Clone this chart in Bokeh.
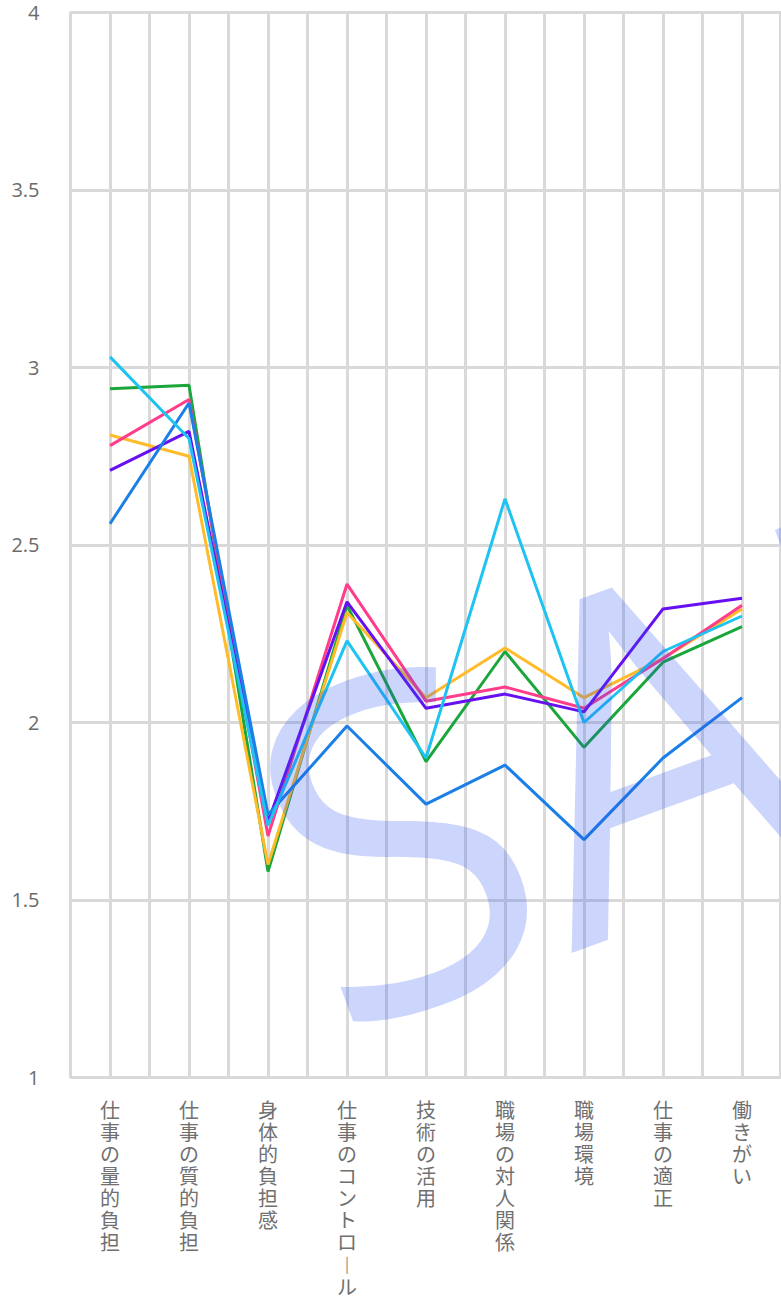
from bokeh.plotting import figure
from bokeh.layouts import column
from bokeh.models import Range1d, FixedTicker, Label, ColumnDataSource
from bokeh.core.properties import value
from bokeh.embed import file_html
from bokeh.resources import INLINE

categories = ["仕事の量的負担", "仕事の質的負担", "身体的負担感", "仕事のコントロール",
              "技術の活用", "職場の対人関係", "職場環境", "仕事の適正", "働きがい"]
blue = [2.56, 2.90, 1.74, 1.99, 1.77, 1.88, 1.67, 1.90, 2.07]
purple = [2.71, 2.82, 1.72, 2.34, 2.04, 2.08, 2.03, 2.32, 2.35]
pink = [2.78, 2.91, 1.68, 2.39, 2.06, 2.10, 2.04, 2.18, 2.33]
yellow = [2.81, 2.75, 1.60, 2.31, 2.07, 2.21, 2.07, 2.18, 2.32]
green = [2.94, 2.95, 1.58, 2.33, 1.89, 2.20, 1.93, 2.17, 2.27]
cyan = [3.03, 2.80, 1.71, 2.23, 1.90, 2.63, 2.00, 2.20, 2.30]
y_ticks = [1, 1.5, 2, 2.5, 3, 3.5, 4]
y_tick_labels = ["1", "1.5", "2", "2.5", "3", "3.5", "4"]
watermark = "SAMPLE"

series = [
    (green, "#1aa63a"),
    (yellow, "#ffbb2a"),
    (pink, "#ff3d8b"),
    (purple, "#6610f2"),
    (blue, "#1a7fe6"),
    (cyan, "#1fc3f2"),
]

xs = [i + 0.5 for i in range(len(categories))]

p = figure(width=781, height=1091, output_backend="svg", toolbar_location=None,
           x_range=Range1d(0, 9), y_range=Range1d(1, 4),
           min_border_left=70, min_border_top=12, min_border_right=0,
           min_border_bottom=14)
p.background_fill_color = "white"
p.border_fill_color = "white"
p.outline_line_color = "#d9d9d9"
p.outline_line_width = 3

for vals, col in series:
    p.line(xs, vals, line_color=col, line_width=3)

# grids
p.xgrid.ticker = FixedTicker(ticks=[i * 0.5 for i in range(0, 19)])
p.ygrid.ticker = FixedTicker(ticks=y_ticks)
for g in (p.xgrid, p.ygrid):
    g.grid_line_color = "#d9d9d9"
    g.grid_line_width = 3

# y axis
p.yaxis.ticker = FixedTicker(ticks=y_ticks)
p.yaxis.major_label_overrides = {t: l for t, l in zip(y_ticks, y_tick_labels)}
p.yaxis.axis_line_color = None
p.yaxis.major_tick_line_color = None
p.yaxis.minor_tick_line_color = None
p.yaxis.major_tick_out = 0
p.yaxis.major_tick_in = 0
p.yaxis.major_label_standoff = 31
p.yaxis.major_label_text_font = "Open Sans"
p.yaxis.major_label_text_font_size = "20px"
p.yaxis.major_label_text_color = "#6b6b6b"
p.xaxis.visible = False

wm = Label(x=2.57, y=1.58, text=watermark, angle=20, angle_units="deg",
           text_font="Open Sans", text_font_size="460px",
           text_color=(40, 80, 240), text_alpha=0.24,
           text_align="left", text_baseline="alphabetic")
p.add_layout(wm)

# category labels, written vertically (stacked characters), below the plot
def vertical(s):
    return "\n".join("︱" if c == "ー" else c for c in s)

lab = figure(width=781, height=211, output_backend="svg", toolbar_location=None,
             x_range=p.x_range, y_range=Range1d(211, 0),
             min_border_left=70, min_border_top=0, min_border_right=0,
             min_border_bottom=0)
lab.axis.visible = False
lab.grid.visible = False
lab.outline_line_color = None
lab.border_fill_color = "white"
src = ColumnDataSource(dict(x=xs, y=[3] * len(xs), t=[vertical(c) for c in categories]))
lab.text(x="x", y="y", text="t", source=src, text_align="center", text_baseline="top",
         text_font=value("Noto Sans CJK JP"), text_font_size="20px",
         text_color="#707070", text_line_height=0.764)

layout = column(p, lab, spacing=0)
open("out.html", "w").write(file_html(layout, INLINE))
